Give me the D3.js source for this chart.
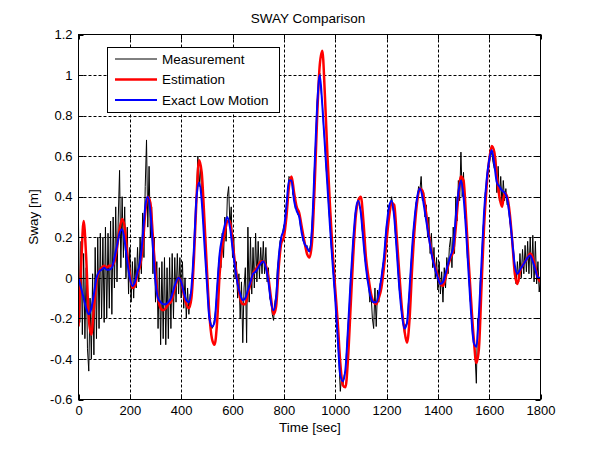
<!DOCTYPE html>
<html>
<head>
<meta charset="utf-8">
<script src="https://cdn.jsdelivr.net/npm/d3@7"></script>
<style>
  html, body { margin: 0; padding: 0; background: #fff; }
  svg { display: block; }
  text { font-family: "Liberation Sans", Arial, sans-serif; fill: #000; }
</style>
</head>
<body>
<svg id="chart" width="598" height="449"></svg>
<script>
// ---------------- DATA ----------------
const titleText = "SWAY Comparison";
const xLabelText = "Time [sec]";
const yLabelText = "Sway [m]";
const seriesNames = ["Measurement", "Estimation", "Exact Low Motion"];

const xTicks = [0, 200, 400, 600, 800, 1000, 1200, 1400, 1600, 1800];
const xTickLabels = ["0", "200", "400", "600", "800", "1000", "1200", "1400", "1600", "1800"];
const yTicks = [-0.6, -0.4, -0.2, 0, 0.2, 0.4, 0.6, 0.8, 1, 1.2];
const yTickLabels = ["-0.6", "-0.4", "-0.2", "0", "0.2", "0.4", "0.6", "0.8", "1", "1.2"];

// Measurement: sampled every 5 s, 0..1800
const measStep = 5;
const measurement = [
  0.27, -0.22, 0.18, -0.28, 0.12, -0.30, 0.05, -0.35, -0.46, -0.10,
  -0.40, 0.02, -0.38, 0.15, -0.30, 0.20, -0.25, 0.22, -0.20, 0.20,
  -0.22, 0.25, -0.20, 0.22, -0.15, 0.28, -0.18, 0.30, -0.05, 0.35,
  -0.02, 0.30, 0.53, 0.05, 0.40, 0.10, 0.35, 0.00, 0.25, -0.08,
  0.15, -0.12, 0.08, -0.10, 0.10, -0.05, 0.15, -0.02, 0.20, 0.02,
  0.32, 0.10, 0.45, 0.68, 0.25, 0.55, 0.20, 0.35, 0.02, 0.20,
  -0.12, 0.08, -0.25, 0.05, -0.33, 0.08, -0.30, 0.10, -0.33, 0.05,
  -0.30, 0.10, -0.25, 0.12, -0.20, 0.10, -0.12, 0.12, -0.08, 0.10,
  -0.10, 0.08, -0.15, 0.00, -0.20, -0.05, -0.18, -0.08, -0.08, 0.05,
  0.15, 0.28, 0.42, 0.60, 0.45, 0.55, 0.40, 0.30, 0.20, 0.08,
  0.00, -0.05, -0.18, -0.22, -0.25, -0.24, -0.20, -0.15, -0.05, 0.05,
  0.12, 0.05, 0.22, 0.10, 0.30, 0.18, 0.40, 0.45, 0.25, 0.35,
  0.10, 0.20, 0.00, 0.08, -0.10, 0.02, -0.20, -0.02, -0.32, -0.05,
  0.05, -0.32, 0.25, -0.12, 0.20, -0.08, 0.15, -0.05, 0.22, -0.02,
  0.18, 0.00, 0.15, 0.02, 0.18, 0.02, 0.15, -0.02, 0.05, -0.10,
  -0.12, -0.18, -0.21, -0.12, -0.08, 0.05, 0.10, 0.18, 0.20, 0.22,
  0.26, 0.27, 0.37, 0.41, 0.50, 0.49, 0.50, 0.41, 0.40, 0.34,
  0.35, 0.31, 0.31, 0.25, 0.23, 0.18, 0.18, 0.15, 0.16, 0.13,
  0.14, 0.17, 0.27, 0.39, 0.57, 0.69, 0.87, 0.94, 1.01, 0.92,
  0.86, 0.74, 0.66, 0.54, 0.46, 0.34, 0.26, 0.15, 0.08, -0.02,
  -0.09, -0.21, -0.29, -0.42, -0.56, -0.49, -0.53, -0.48, -0.46, -0.35,
  -0.24, -0.14, -0.01, 0.07, 0.19, 0.25, 0.34, 0.35, 0.39, 0.35,
  0.33, 0.24, 0.19, 0.10, 0.06, -0.01, -0.03, -0.12, -0.08, -0.20,
  -0.25, -0.05, -0.24, -0.06, -0.12, -0.03, -0.01, 0.06, 0.09, 0.18,
  0.26, 0.29, 0.36, 0.36, 0.40, 0.34, 0.31, 0.21, 0.14, 0.03,
  -0.06, -0.11, -0.19, -0.21, -0.27, -0.23, -0.23, -0.13, -0.06, 0.06,
  0.14, 0.24, 0.29, 0.37, 0.39, 0.45, 0.43, 0.50, 0.38, 0.42,
  0.30, 0.36, 0.20, 0.30, 0.12, 0.22, 0.05, 0.15, 0.00, 0.10,
  -0.06, 0.08, -0.08, 0.03, -0.12, 0.05, -0.05, 0.10, 0.02, 0.15,
  0.20, 0.05, 0.25, 0.12, 0.40, 0.28, 0.48, 0.38, 0.62, 0.40,
  0.52, 0.30, 0.28, 0.10, 0.05, -0.10, -0.15, -0.28, -0.30, -0.38,
  -0.52, -0.20, -0.25, -0.02, 0.05, 0.22, 0.30, 0.42, 0.46, 0.55,
  0.56, 0.60, 0.62, 0.57, 0.54, 0.60, 0.42, 0.55, 0.38, 0.50,
  0.36, 0.48, 0.38, 0.44, 0.36, 0.37, 0.28, 0.25, 0.17, 0.13,
  0.04, -0.03, 0.08, -0.02, 0.12, 0.00, 0.14, 0.02, 0.16, 0.03,
  0.18, 0.02, 0.20, 0.00, 0.21, -0.02, 0.18, -0.03, 0.08, -0.07,
  0.00
];

// Estimation and exact low motion: sampled every 10 s, 0..1800
const smoothStep = 10;
const estimation = [
  -0.24, 0.05, 0.28, 0.10, -0.20, -0.28, -0.15, -0.02, 0.03, 0.05,
  0.06, 0.05, 0.06, 0.06, 0.08, 0.15, 0.24, 0.29, 0.25, 0.12,
  0.02, -0.05, -0.04, 0.02, 0.06, 0.15, 0.32, 0.40, 0.37, 0.20,
  0.02, -0.10, -0.15, -0.16, -0.15, -0.13, -0.12, -0.08, -0.03, 0.00,
  -0.02, -0.08, -0.13, -0.15, -0.10, 0.10, 0.40, 0.58, 0.52, 0.30,
  0.05, -0.18, -0.30, -0.33, -0.22, 0.02, 0.15, 0.22, 0.28, 0.28,
  0.18, 0.07, -0.02, -0.10, -0.13, -0.13, -0.08, -0.03, 0.02, 0.04,
  0.06, 0.08, 0.08, 0.06, 0.00, -0.10, -0.18, -0.14, 0.05, 0.17,
  0.20, 0.30, 0.45, 0.50, 0.42, 0.35, 0.32, 0.25, 0.18, 0.12,
  0.10, 0.18, 0.45, 0.80, 1.05, 1.12, 0.90, 0.60, 0.35, 0.13,
  -0.05, -0.22, -0.42, -0.53, -0.54, -0.40, -0.15, 0.10, 0.30, 0.38,
  0.40, 0.28, 0.10, 0.00, -0.08, -0.12, -0.13, -0.10, -0.05, 0.05,
  0.18, 0.30, 0.37, 0.36, 0.20, 0.02, -0.15, -0.26, -0.32, -0.20,
  0.05, 0.25, 0.38, 0.44, 0.43, 0.36, 0.26, 0.17, 0.10, 0.05,
  0.01, -0.03, -0.04, 0.00, 0.06, 0.10, 0.13, 0.25, 0.40, 0.50,
  0.48, 0.30, 0.08, -0.12, -0.30, -0.42, -0.35, -0.05, 0.25, 0.45,
  0.58, 0.65, 0.62, 0.50, 0.40, 0.35, 0.42, 0.40, 0.32, 0.18,
  0.02, -0.03, 0.03, 0.06, 0.08, 0.10, 0.12, 0.10, 0.05, 0.00,
  -0.02
];
const exactLow = [
  0.00, -0.05, -0.10, -0.15, -0.18, -0.15, -0.08, 0.00, 0.03, 0.04,
  0.05, 0.04, 0.04, 0.05, 0.10, 0.16, 0.22, 0.24, 0.18, 0.08,
  0.00, -0.04, -0.02, 0.03, 0.08, 0.20, 0.35, 0.40, 0.33, 0.15,
  -0.02, -0.10, -0.12, -0.13, -0.13, -0.12, -0.10, -0.06, -0.02, 0.00,
  -0.02, -0.07, -0.11, -0.12, -0.05, 0.15, 0.40, 0.47, 0.38, 0.18,
  -0.02, -0.20, -0.24, -0.22, -0.05, 0.12, 0.20, 0.26, 0.30, 0.25,
  0.15, 0.05, -0.03, -0.08, -0.11, -0.10, -0.06, -0.02, 0.02, 0.03,
  0.05, 0.07, 0.08, 0.05, -0.02, -0.12, -0.16, -0.10, 0.10, 0.20,
  0.24, 0.35, 0.48, 0.48, 0.38, 0.33, 0.30, 0.22, 0.17, 0.15,
  0.13, 0.25, 0.55, 0.85, 1.00, 0.85, 0.65, 0.45, 0.25, 0.07,
  -0.10, -0.30, -0.48, -0.51, -0.45, -0.25, -0.02, 0.18, 0.33, 0.38,
  0.32, 0.18, 0.05, -0.04, -0.10, -0.12, -0.12, -0.08, 0.00, 0.10,
  0.25, 0.35, 0.38, 0.30, 0.13, -0.05, -0.18, -0.25, -0.22, -0.05,
  0.15, 0.30, 0.40, 0.44, 0.40, 0.32, 0.24, 0.16, 0.09, 0.04,
  0.00, -0.03, -0.02, 0.02, 0.07, 0.11, 0.15, 0.30, 0.42, 0.48,
  0.40, 0.23, 0.02, -0.18, -0.32, -0.34, -0.18, 0.07, 0.32, 0.48,
  0.58, 0.63, 0.56, 0.47, 0.45, 0.43, 0.42, 0.39, 0.30, 0.18,
  0.06, 0.02, 0.04, 0.06, 0.08, 0.10, 0.11, 0.08, 0.04, 0.00,
  0.00
];

// ---------------- CHART ----------------
const svg = d3.select("#chart");
const W = 598, H = 449;
svg.append("rect").attr("width", W).attr("height", H).attr("fill", "#fff");

const plot = { left: 78.5, right: 540.5, top: 34.5, bottom: 399.5 };
const x = d3.scaleLinear().domain([0, 1800]).range([plot.left, plot.right]);
const y = d3.scaleLinear().domain([-0.6, 1.2]).range([plot.bottom, plot.top]);

svg.append("rect")
  .attr("x", plot.left).attr("y", plot.top)
  .attr("width", plot.right - plot.left).attr("height", plot.bottom - plot.top)
  .attr("fill", "#fff");

// grid
const grid = svg.append("g").attr("stroke", "#000").attr("stroke-width", 1)
  .attr("stroke-dasharray", "3,2").attr("fill", "none");
xTicks.slice(1, -1).forEach(t => {
  grid.append("line").attr("x1", Math.round(x(t)) + 0.5).attr("x2", Math.round(x(t)) + 0.5)
    .attr("y1", plot.top).attr("y2", plot.bottom);
});
yTicks.slice(1, -1).forEach(t => {
  grid.append("line").attr("y1", Math.round(y(t)) + 0.5).attr("y2", Math.round(y(t)) + 0.5)
    .attr("x1", plot.left).attr("x2", plot.right);
});

svg.append("clipPath").attr("id", "clip").append("rect")
  .attr("x", plot.left).attr("y", plot.top)
  .attr("width", plot.right - plot.left).attr("height", plot.bottom - plot.top);

const lineGen = step => d3.line().x((d, i) => x(i * step)).y(d => y(d));

const lines = svg.append("g").attr("clip-path", "url(#clip)");
lines.append("path").datum(measurement)
  .attr("d", lineGen(measStep)).attr("fill", "none")
  .attr("stroke", "#000").attr("stroke-width", 1).attr("stroke-linejoin", "round");
lines.append("path").datum(estimation)
  .attr("d", lineGen(smoothStep).curve(d3.curveMonotoneX)).attr("fill", "none")
  .attr("stroke", "#ff0000").attr("stroke-width", 2.5).attr("stroke-linejoin", "round");
lines.append("path").datum(exactLow)
  .attr("d", lineGen(smoothStep).curve(d3.curveMonotoneX)).attr("fill", "none")
  .attr("stroke", "#0000ff").attr("stroke-width", 2).attr("stroke-linejoin", "round");

// box
svg.append("rect")
  .attr("x", plot.left).attr("y", plot.top)
  .attr("width", plot.right - plot.left).attr("height", plot.bottom - plot.top)
  .attr("fill", "none").attr("stroke", "#000").attr("stroke-width", 1);

// inward ticks on all sides
const tk = svg.append("g").attr("stroke", "#000").attr("stroke-width", 1);
const tlen = 5;
xTicks.forEach(t => {
  const px = Math.round(x(t)) + 0.5;
  tk.append("line").attr("x1", px).attr("x2", px).attr("y1", plot.bottom).attr("y2", plot.bottom - tlen);
  tk.append("line").attr("x1", px).attr("x2", px).attr("y1", plot.top).attr("y2", plot.top + tlen);
});
yTicks.forEach(t => {
  const py = Math.round(y(t)) + 0.5;
  tk.append("line").attr("y1", py).attr("y2", py).attr("x1", plot.left).attr("x2", plot.left + tlen);
  tk.append("line").attr("y1", py).attr("y2", py).attr("x1", plot.right).attr("x2", plot.right - tlen);
});

// tick labels via d3 axes
const tickFont = "13px";
const labelFont = "13.5px";
const xAxis = d3.axisBottom(x).tickValues(xTicks)
  .tickFormat((d, i) => xTickLabels[i]).tickSize(0).tickPadding(6);
const gx = svg.append("g").attr("transform", `translate(0,${plot.bottom})`).call(xAxis);
gx.select(".domain").remove();
gx.selectAll("text").attr("font-size", tickFont).attr("font-family", "Liberation Sans, Arial, sans-serif").attr("fill", "#000");

const yAxis = d3.axisLeft(y).tickValues(yTicks)
  .tickFormat((d, i) => yTickLabels[i]).tickSize(0).tickPadding(6);
const gy = svg.append("g").attr("transform", `translate(${plot.left},0)`).call(yAxis);
gy.select(".domain").remove();
gy.selectAll("text").attr("font-size", tickFont).attr("font-family", "Liberation Sans, Arial, sans-serif").attr("fill", "#000");

// title & axis titles
svg.append("text").attr("x", 308).attr("y", 23)
  .attr("text-anchor", "middle").attr("font-size", labelFont).text(titleText);
svg.append("text").attr("x", 310).attr("y", 432)
  .attr("text-anchor", "middle").attr("font-size", labelFont).text(xLabelText);
svg.append("text").attr("transform", `translate(38,${(plot.top + plot.bottom) / 2}) rotate(-90)`)
  .attr("text-anchor", "middle").attr("font-size", labelFont).text(yLabelText);

// legend
const lg = svg.append("g");
lg.append("rect").attr("x", 107.5).attr("y", 47.5).attr("width", 172).attr("height", 65)
  .attr("fill", "#fff").attr("stroke", "#000").attr("stroke-width", 1);
const legendColors = ["#000", "#ff0000", "#0000ff"];
const legendWidths = [1, 2.5, 2];
const legendY = [59, 79.5, 100];
seriesNames.forEach((name, i) => {
  lg.append("line").attr("x1", 115).attr("x2", 157).attr("y1", legendY[i]).attr("y2", legendY[i])
    .attr("stroke", legendColors[i]).attr("stroke-width", legendWidths[i]);
  lg.append("text").attr("x", 162).attr("y", legendY[i]).attr("dy", "0.35em")
    .attr("font-size", labelFont).text(name);
});
</script>
</body>
</html>
